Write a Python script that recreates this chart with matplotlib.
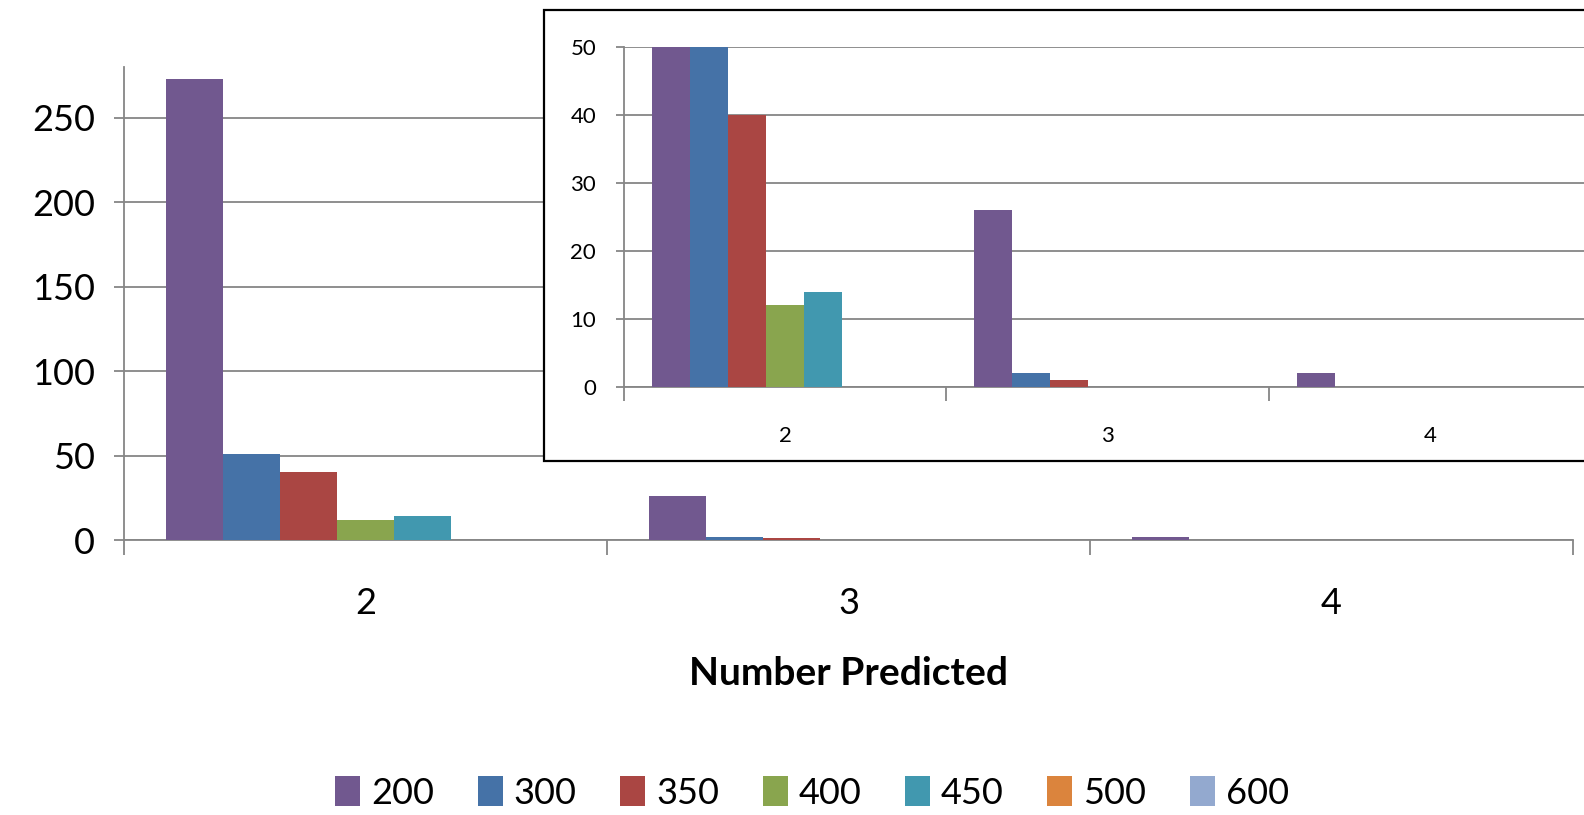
import matplotlib
matplotlib.use("Agg")
import matplotlib.pyplot as plt
from matplotlib.patches import Rectangle
import numpy as np

categories = ["2", "3", "4"]
series_names = ["200", "300", "350", "400", "450", "500", "600"]
s200 = [273, 26, 2]
s300 = [51, 2, 0]
s350 = [40, 1, 0]
s400 = [12, 0, 0]
s450 = [14, 0, 0]
s500 = [0, 0, 0]
s600 = [0, 0, 0]
series_values = [s200, s300, s350, s400, s450, s500, s600]
colors = ["#71588F", "#4572A7", "#AA4643", "#89A54E", "#4198AF", "#DB843D", "#93A9CF"]
main_yticks = [0, 50, 100, 150, 200, 250]
inset_yticks = [0, 10, 20, 30, 40, 50]

plt.rcParams['font.family'] = ['Lato', 'DejaVu Sans']

W, H = 1584, 815
fig = plt.figure(figsize=(W / 100, H / 100), dpi=100)

grid_c = "#868686"
axis_c = "#868686"

n = len(series_names)
bw = 57 / 483
gap = (1 - n * bw) / 2
x = np.arange(len(categories))


def draw_bars(ax):
    for i, (name, vals, c) in enumerate(zip(series_names, series_values, colors)):
        left = x - 0.5 + gap + i * bw
        ax.bar(left, vals, width=bw, align="edge", color=c, label=name, zorder=3,
               edgecolor="none")


def style(ax, ymax, yticks, fs, ypad, xpad, ytl, xtl):
    ax.set_xlim(-0.5, len(categories) - 0.5)
    ax.set_ylim(0, ymax)
    ax.set_yticks(yticks)
    ax.set_yticklabels([str(t) for t in yticks], fontsize=fs)
    ax.set_xticks(x)
    ax.set_xticklabels(categories, fontsize=fs)
    ax.set_xticks(np.arange(len(categories) + 1) - 0.5, minor=True)
    ax.tick_params(axis="x", which="major", length=0, pad=xpad)
    ax.tick_params(axis="x", which="minor", length=xtl, width=1.3, color=axis_c, direction="out")
    ax.tick_params(axis="y", length=ytl, width=1.3, color=axis_c, pad=ypad, direction="out")
    for s in ["top", "right"]:
        ax.spines[s].set_visible(False)
    for s in ["left", "bottom"]:
        ax.spines[s].set_color(axis_c)
        ax.spines[s].set_linewidth(1.3)
    ax.grid(axis="y", color=grid_c, linewidth=1.3, zorder=0)
    ax.set_axisbelow(True)


# main axes
ax = fig.add_axes([124 / W, (H - 540) / H, (1573 - 124) / W, (540 - 67) / H])
draw_bars(ax)
style(ax, 280, main_yticks, 26, 14, 34, 7, 11)
ax.set_xlabel("Number Predicted", fontsize=28, fontweight="bold", labelpad=26)
leg = ax.legend(loc="center", bbox_to_anchor=(812 / W, 22 / H), bbox_transform=fig.transFigure,
                ncol=7, frameon=False, fontsize=26, handlelength=0.7, handleheight=0.9,
                handletextpad=0.3, columnspacing=1.2)

# inset frame
rect = Rectangle((544 / W, (H - 461) / H), 1.2, (461 - 10) / H, transform=fig.transFigure,
                 facecolor="white", edgecolor="black", linewidth=1.6, zorder=1)
fig.patches.append(rect)

# inset axes
ax2 = fig.add_axes([624 / W, (H - 387) / H, (1591 - 624) / W, (387 - 47) / H], zorder=2)
ax2.patch.set_alpha(0)
draw_bars(ax2)
style(ax2, 50, inset_yticks, 16, 14, 28, 6, 10)

fig.savefig("out.png", dpi=100)
